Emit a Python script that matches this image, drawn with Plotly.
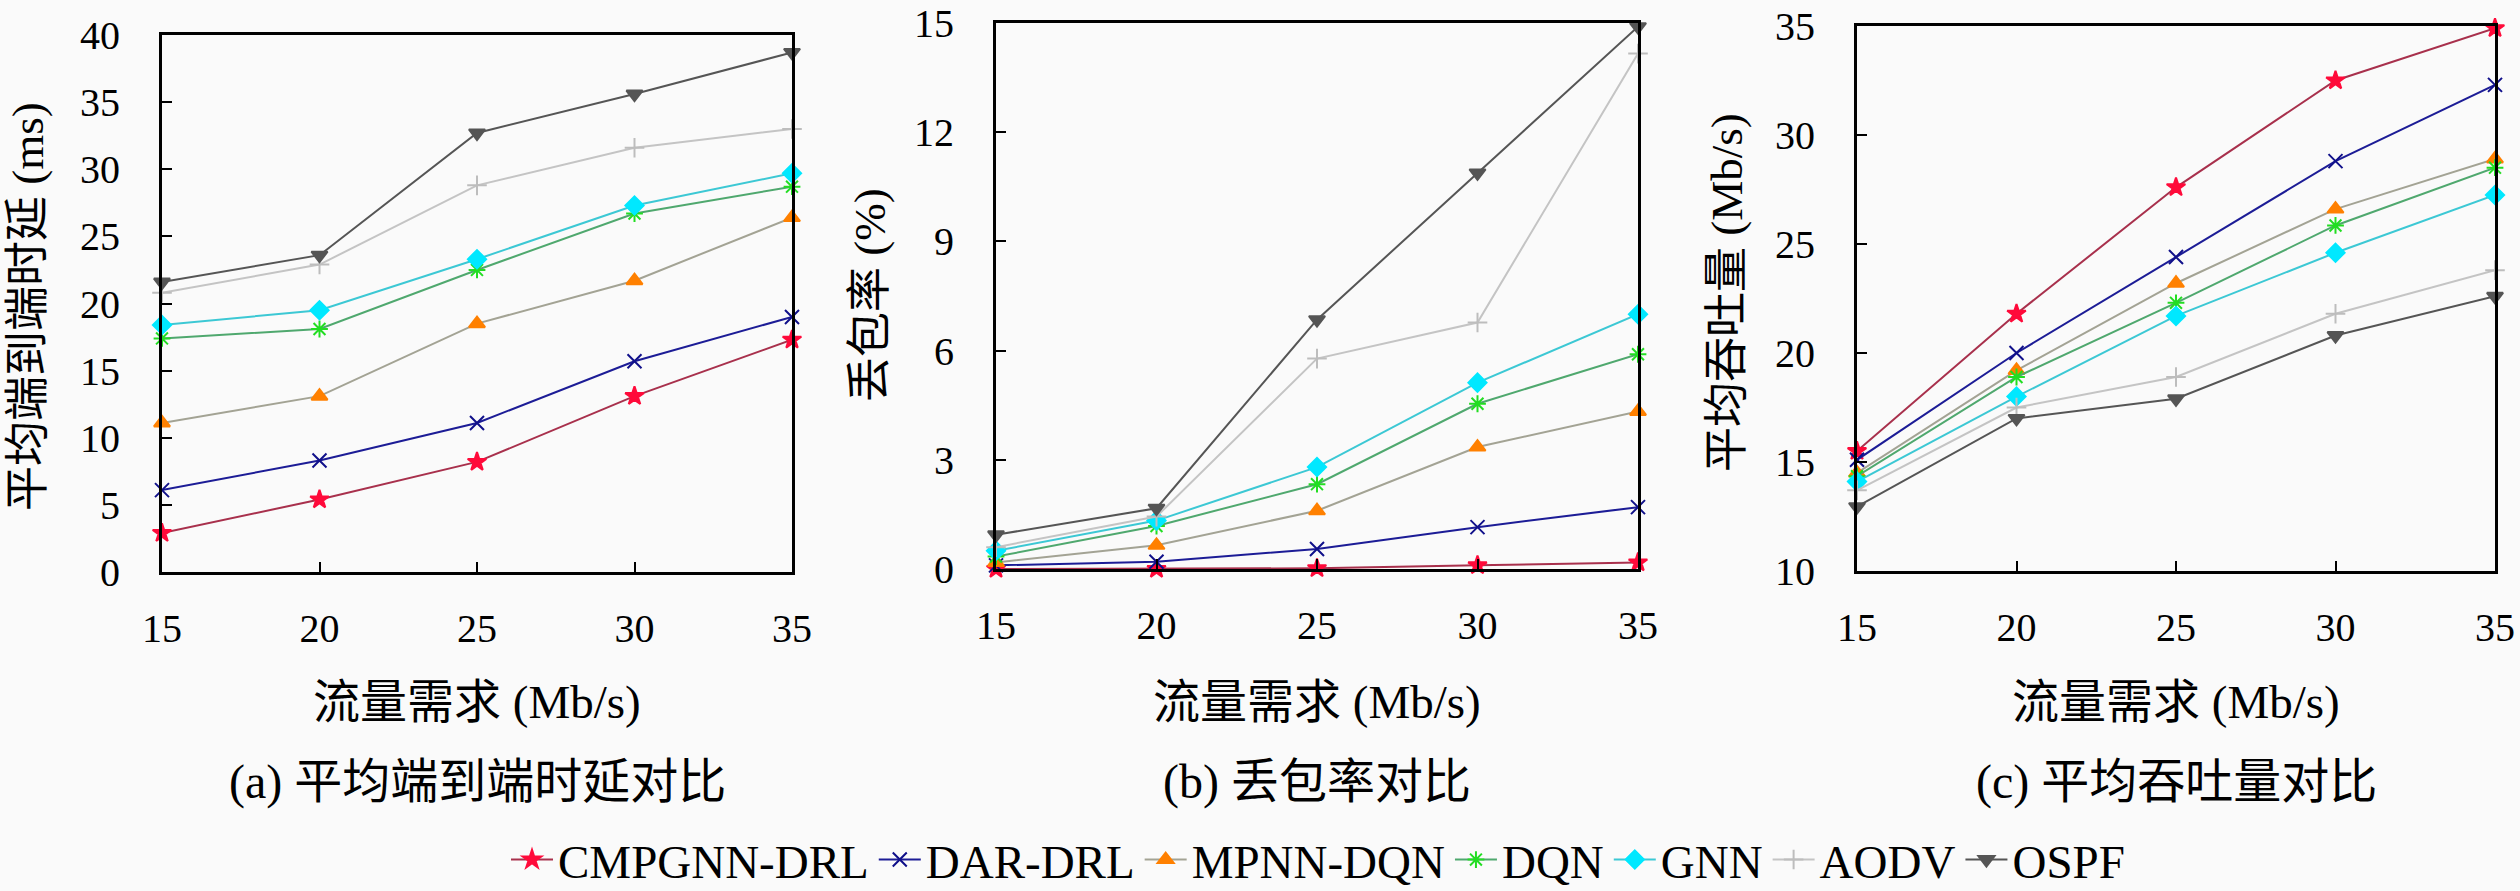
import plotly.graph_objects as go

# traffic demand (Mb/s)
demand = [15, 20, 25, 30, 35]

methods = ["CMPGNN-DRL", "DAR-DRL", "MPNN-DQN", "DQN", "GNN", "AODV", "OSPF"]

# (a) average end-to-end delay (ms)
delay_cmpgnn = [2.9, 5.4, 8.2, 13.1, 17.3]
delay_dar = [6.1, 8.3, 11.1, 15.7, 19.0]
delay_mpnn = [11.1, 13.1, 18.5, 21.7, 26.4]
delay_dqn = [17.4, 18.1, 22.5, 26.7, 28.7]
delay_gnn = [18.4, 19.5, 23.3, 27.3, 29.7]
delay_aodv = [20.8, 22.9, 28.8, 31.6, 33.0]
delay_ospf = [21.6, 23.6, 32.7, 35.6, 38.7]

# (b) packet loss rate (%)
loss_cmpgnn = [0.0, 0.0, 0.02, 0.1, 0.18]
loss_dar = [0.1, 0.2, 0.55, 1.15, 1.7]
loss_mpnn = [0.18, 0.65, 1.6, 3.35, 4.33]
loss_dqn = [0.34, 1.18, 2.33, 4.54, 5.9]
loss_gnn = [0.5, 1.33, 2.8, 5.12, 7.0]
loss_aodv = [0.6, 1.44, 5.78, 6.77, 14.16]
loss_ospf = [0.94, 1.67, 6.85, 10.88, 14.9]

# (c) average throughput (Mb/s)
thr_cmpgnn = [15.5, 21.8, 27.6, 32.5, 34.9]
thr_dar = [15.1, 20.0, 24.4, 28.8, 32.3]
thr_mpnn = [14.5, 19.2, 23.2, 26.6, 28.9]
thr_dqn = [14.35, 18.9, 22.3, 25.85, 28.5]
thr_gnn = [14.1, 18.0, 21.7, 24.6, 27.25]
thr_aodv = [13.7, 17.5, 18.9, 21.8, 23.8]
thr_ospf = [12.95, 17.0, 17.9, 20.8, 22.6]

delay = [delay_cmpgnn, delay_dar, delay_mpnn, delay_dqn, delay_gnn, delay_aodv, delay_ospf]
loss = [loss_cmpgnn, loss_dar, loss_mpnn, loss_dqn, loss_gnn, loss_aodv, loss_ospf]
thr = [thr_cmpgnn, thr_dar, thr_mpnn, thr_dqn, thr_gnn, thr_aodv, thr_ospf]

# style per method: line colour, marker colour, marker symbol
styles = [
    ("#a8304c", "#ff0a3a", "star"),
    ("#1c1c96", "#10108a", "x-thin-open"),
    ("#a3a394", "#ff8000", "triangle-up"),
    ("#4fa86e", "#22dd22", "asterisk-open"),
    ("#3cc8d4", "#00e8ff", "diamond"),
    ("#c4c4c4", "#bdbdbd", "cross-thin-open"),
    ("#555555", "#555555", "triangle-down"),
]

FONT = "Liberation Serif, Noto Sans CJK SC, serif"
BG = "#fafafa"
W, H = 2520, 891

fig = go.Figure()

panels = [
    (delay, "x", "y"),
    (loss, "x2", "y2"),
    (thr, "x3", "y3"),
]

for p, (data, xa, ya) in enumerate(panels):
    for i, name in enumerate(methods):
        lc, mc, sym = styles[i]
        fig.add_trace(go.Scatter(
            x=demand, y=data[i], name=name, mode="lines+markers",
            xaxis=xa, yaxis=ya, legendgroup=name, showlegend=(p == 0),
            line=dict(color=lc, width=2),
            marker=dict(symbol=sym, size=14, color=mc,
                        line=dict(color=mc, width=2)),
            cliponaxis=False,
        ))

axis_common = dict(
    showline=True, linecolor="black", linewidth=3, mirror=True,
    ticks="inside", ticklen=10, tickwidth=2, tickcolor="black",
    showgrid=False, zeroline=False, automargin=False,
    tickfont=dict(family=FONT, size=40, color="black"),
)

doms_x = [[162 / W, 792 / W], [996 / W, 1638 / W], [1857 / W, 2495 / W]]
doms_y = [[1 - 572 / H, 1 - 35 / H], [1 - 569 / H, 1 - 23 / H], [1 - 571 / H, 1 - 26 / H]]
yranges = [[0, 40], [0, 15], [10, 35]]
ydticks = [5, 3, 5]

layout = {}
for k in range(3):
    sx = "" if k == 0 else str(k + 1)
    layout["xaxis" + sx] = dict(axis_common, domain=doms_x[k], range=[15, 35],
                                tickvals=demand, anchor="y" + sx,
                                ticklabelstandoff=19)
    layout["yaxis" + sx] = dict(axis_common, domain=doms_y[k], range=yranges[k],
                                dtick=ydticks[k], tick0=0, anchor="x" + sx,
                                ticklabelstandoff=31)
fig.update_layout(**layout)

# axis titles and sub-captions
xcent = [477, 1317, 2176]
ytitles = ["平均端到端时延 (ms)", "丢包率 (%)", "平均吞吐量 (Mb/s)"]
ytx = [28, 870, 1727]
yty = [307, 295, 293]
captions = ["(a) 平均端到端时延对比", "(b) 丢包率对比", "(c) 平均吞吐量对比"]

annotations = []
for k in range(3):
    annotations.append(dict(text="流量需求 (Mb/s)", x=xcent[k] / W, y=1 - 702 / H, size=47))
    annotations.append(dict(text=captions[k], x=xcent[k] / W, y=1 - 782 / H, size=48))
    annotations.append(dict(text=ytitles[k], x=ytx[k] / W, y=1 - yty[k] / H, textangle=-90, size=45))
for a in annotations:
    fs = a.pop("size")
    a.update(xref="paper", yref="paper", showarrow=False,
             xanchor="center", yanchor="middle",
             font=dict(family=FONT, size=fs, color="black"))

fig.update_layout(
    width=W, height=H,
    margin=dict(l=0, r=0, t=0, b=0, autoexpand=False),
    paper_bgcolor=BG, plot_bgcolor=BG,
    annotations=annotations,
    legend=dict(orientation="h", x=1318 / W, xanchor="center",
                y=1 - 860 / H, yanchor="middle",
                font=dict(family=FONT, size=47, color="black"),
                itemwidth=42, tracegroupgap=0, bgcolor="rgba(0,0,0,0)"),
)

# drop the default page margin so the figure sits at the window's corner
fig.write_html("out.html", config={"displayModeBar": False},
               post_script="document.body.style.margin='0px';")
